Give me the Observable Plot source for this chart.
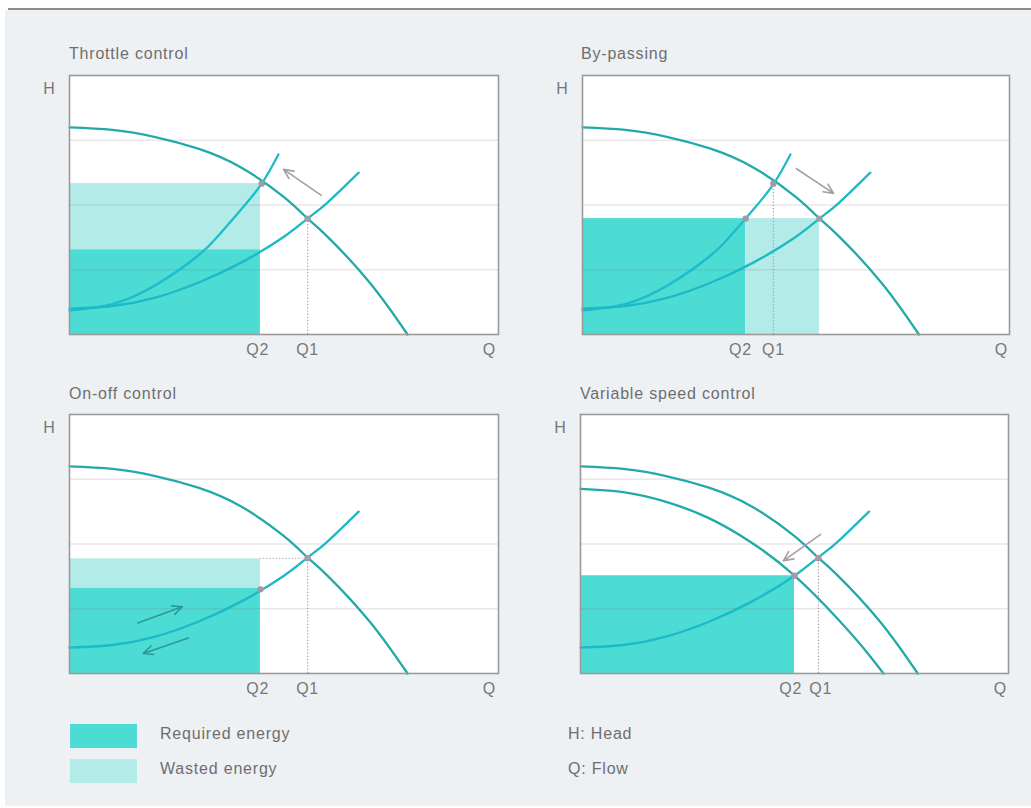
<!DOCTYPE html>
<html><head><meta charset="utf-8">
<script src="https://cdn.jsdelivr.net/npm/d3@7"></script>
<script src="https://cdn.jsdelivr.net/npm/@observablehq/plot@0.6"></script>
<style>
body{margin:0;background:#fff;font-family:"Liberation Sans",Arial,sans-serif;}
#page{position:relative;width:1031px;height:808px;overflow:hidden}
#bg{position:absolute;left:5px;top:10px;width:1026px;height:796px;background:#eef1f4}
#topline{position:absolute;left:8px;top:8px;width:1023px;height:2px;background:#8c8c8c}
.title,.lg{position:absolute;font-size:16px;line-height:16px;color:#6e6e6e;letter-spacing:0.8px;white-space:nowrap}
.panel{position:absolute}
.sw{position:absolute;left:70px;width:67px;height:24px}
</style></head>
<body><div id="page"><div id="bg"></div><div id="topline"></div></div>
<script>
// ---------- data ----------
const titles = ["Throttle control", "By-passing", "On-off control", "Variable speed control"];
const tickLabels = ["Q2", "Q1", "Q"];
const yLabel = "H";
const legendLabels = ["Required energy", "Wasted energy"];
const notes = ["H: Head", "Q: Flow"];

// pump curve, full speed
const pumpQ = [0, 1, 2, 3, 4, 5, 5.55, 6, 7, 7.88];
const pumpH = [3.2, 3.16, 3.05, 2.87, 2.58, 2.12, 1.79, 1.52, 0.8, 0];
// pump curve, reduced speed
const pumpLowQ = [0, 1, 2, 3, 4, 5, 6, 6.6, 7.08];
const pumpLowH = [2.85, 2.8, 2.65, 2.4, 2.02, 1.51, 0.85, 0.4, 0];
// throttled (steep) system curve
const steepQ = [0, 1, 2, 3, 3.5, 4, 4.48, 4.87];
const steepH = [0.37, 0.47, 0.76, 1.22, 1.55, 1.93, 2.33, 2.78];
// normal system curve
const sysQ = [0, 1, 2, 3, 4, 5, 5.55, 6, 6.74];
const sysH = [0.4, 0.44, 0.57, 0.8, 1.11, 1.51, 1.79, 2.03, 2.5];

const panelCurves = [["pump", "steep", "sys"], ["pump", "steep", "sys"], ["pump", "sys"], ["pump", "pumpLow", "sys"]];

// x tick positions per panel (Q2, Q1, Q)
const tickQ2 = [4.39, 3.7, 4.39, 4.91];
const tickQ1 = [5.55, 4.47, 5.55, 5.61];
const tickQ = [9.79, 9.81, 9.79, 9.81];

// energy areas
const reqRight = [4.45, 3.82, 4.45, 5.0];
const reqTop = [1.31, 1.79, 1.32, 1.51];
const wasteLeft = [0, 3.82, 0, null];
const wasteRight = [4.45, 5.55, 4.45, null];
const wasteBottom = [1.31, 0, 1.32, null];
const wasteTop = [2.33, 1.79, 1.77, null];

// dotted guide at Q1
const guideQ = [5.55, 4.47, 5.55, 5.56];
const guideH = [1.79, 2.33, 1.78, 1.78];
// horizontal dotted guide (on-off)
const hGuidePanel = [2];
const hGuideQ1 = [4.45];
const hGuideQ2 = [5.55];
const hGuideH = [1.78];

// operating points
const dotPanel = [0, 0, 1, 1, 1, 2, 2, 3, 3];
const dotQ = [4.48, 5.55, 4.47, 3.82, 5.55, 4.45, 5.55, 5.0, 5.56];
const dotH = [2.33, 1.79, 2.33, 1.79, 1.79, 1.3, 1.78, 1.51, 1.78];

// arrows
const arrowPanel = [0, 1, 2, 2, 3];
const arrowQ1 = [5.87, 5.01, 1.59, 2.77, 5.61];
const arrowH1 = [2.15, 2.56, 0.78, 0.55, 2.15];
const arrowQ2 = [4.99, 5.88, 2.63, 1.72, 4.74];
const arrowH2 = [2.55, 2.18, 1.03, 0.31, 1.74];

// ---------- build ----------
const curves = {
  pump: pumpQ.map((q, k) => ({q, h: pumpH[k]})),
  pumpLow: pumpLowQ.map((q, k) => ({q, h: pumpLowH[k]})),
  steep: steepQ.map((q, k) => ({q, h: steepH[k]})),
  sys: sysQ.map((q, k) => ({q, h: sysH[k]}))
};
const curveColor = {pump: "#22aaa8", pumpLow: "#22aaa8", steep: "#1cbccb", sys: "#1cb9c6"};

const REQ = "#4ddcd4", WASTE = "#b3ebe8";
const layout = [
  {left: 20, top: 60, w: 500, tl: 69, tt: 46},
  {left: 533, top: 60, w: 498, tl: 581, tt: 46},
  {left: 20, top: 399, w: 500, tl: 69, tt: 386},
  {left: 531, top: 399, w: 499, tl: 580, tt: 386}
];

const page = document.getElementById("page");

titles.forEach((t, i) => {
  const L = layout[i];
  const d = document.createElement("div");
  d.className = "title";
  d.style.left = L.tl + "px";
  d.style.top = L.tt + "px";
  d.textContent = t;
  page.appendChild(d);

  const rects = [{x1: 0, x2: reqRight[i], y1: 0, y2: reqTop[i], fill: REQ}];
  if (wasteRight[i] != null) rects.push({x1: wasteLeft[i], x2: wasteRight[i], y1: wasteBottom[i], y2: wasteTop[i], fill: WASTE});

  const ticks = [tickQ2[i], tickQ1[i], tickQ[i]].map((q, k) => ({q, label: tickLabels[k]}));
  const guides = [{q: guideQ[i], y1: 0, y2: guideH[i]}];
  const hGuides = hGuidePanel.map((p, k) => ({p, q1: hGuideQ1[k], q2: hGuideQ2[k], h: hGuideH[k]})).filter(d => d.p === i);
  const dots = dotPanel.map((p, k) => ({p, q: dotQ[k], h: dotH[k]})).filter(d => d.p === i);
  const arrows = arrowPanel.map((p, k) => ({p, x1: arrowQ1[k], y1: arrowH1[k], x2: arrowQ2[k], y2: arrowH2[k]})).filter(d => d.p === i);

  const marks = [
    Plot.frame({fill: "#fff", stroke: "none"}),
    Plot.rect(rects, {x1: "x1", x2: "x2", y1: "y1", y2: "y2", fill: d => d.fill}),
    Plot.gridY([1, 2, 3], {stroke: "#7a6570", strokeOpacity: 0.16, strokeWidth: 1.3}),
    Plot.ruleX(guides, {x: "q", y1: "y1", y2: "y2", stroke: "#a898a2", strokeWidth: 1.2, strokeDasharray: "1.2,2"}),
    Plot.ruleY(hGuides, {y: "h", x1: "q1", x2: "q2", stroke: "#a898a2", strokeWidth: 1.2, strokeDasharray: "1.2,2"}),
    ...panelCurves[i].map(c => Plot.line(curves[c], {x: "q", y: "h", curve: "natural", stroke: curveColor[c], strokeWidth: 2.3})),
    Plot.dot(dots, {x: "q", y: "h", r: 3.2, fill: "#a59aa3"}),
    Plot.arrow(arrows, {x1: "x1", y1: "y1", x2: "x2", y2: "y2", stroke: i === 2 ? "#2a9a98" : "#a89ca6", strokeWidth: 1.6, headLength: 10, headAngle: 50}),
    Plot.frame({stroke: "#9a9a9a", strokeWidth: 1.6}),
    Plot.text(ticks, {x: "q", text: "label", frameAnchor: "bottom", dy: 20, fill: "#777", fontSize: 16}),
    Plot.text([yLabel], {frameAnchor: "top-left", dx: -20, dy: 7, textAnchor: "middle", fill: "#777", fontSize: 16})
  ];

  const svg = Plot.plot({
    width: L.w, height: 310,
    marginLeft: 49, marginRight: 22, marginTop: 15, marginBottom: 36,
    x: {domain: [0, 10], axis: null},
    y: {domain: [0, 4], axis: null},
    style: {background: "transparent", fontFamily: "Liberation Sans, Arial, sans-serif", letterSpacing: "0.8px", overflow: "visible"},
    marks
  });
  const wrap = document.createElement("div");
  wrap.className = "panel";
  wrap.style.left = L.left + "px";
  wrap.style.top = L.top + "px";
  wrap.appendChild(svg);
  page.appendChild(wrap);
});

// legend
[REQ, WASTE].forEach((c, k) => {
  const s = document.createElement("div");
  s.className = "sw";
  s.style.top = (724 + k * 35) + "px";
  s.style.background = c;
  page.appendChild(s);
  const t = document.createElement("div");
  t.className = "lg";
  t.style.left = "160px";
  t.style.top = (726 + k * 35) + "px";
  t.textContent = legendLabels[k];
  page.appendChild(t);
  const n = document.createElement("div");
  n.className = "lg";
  n.style.left = "568px";
  n.style.top = (726 + k * 35) + "px";
  n.textContent = notes[k];
  page.appendChild(n);
});
</script>
</body></html>
